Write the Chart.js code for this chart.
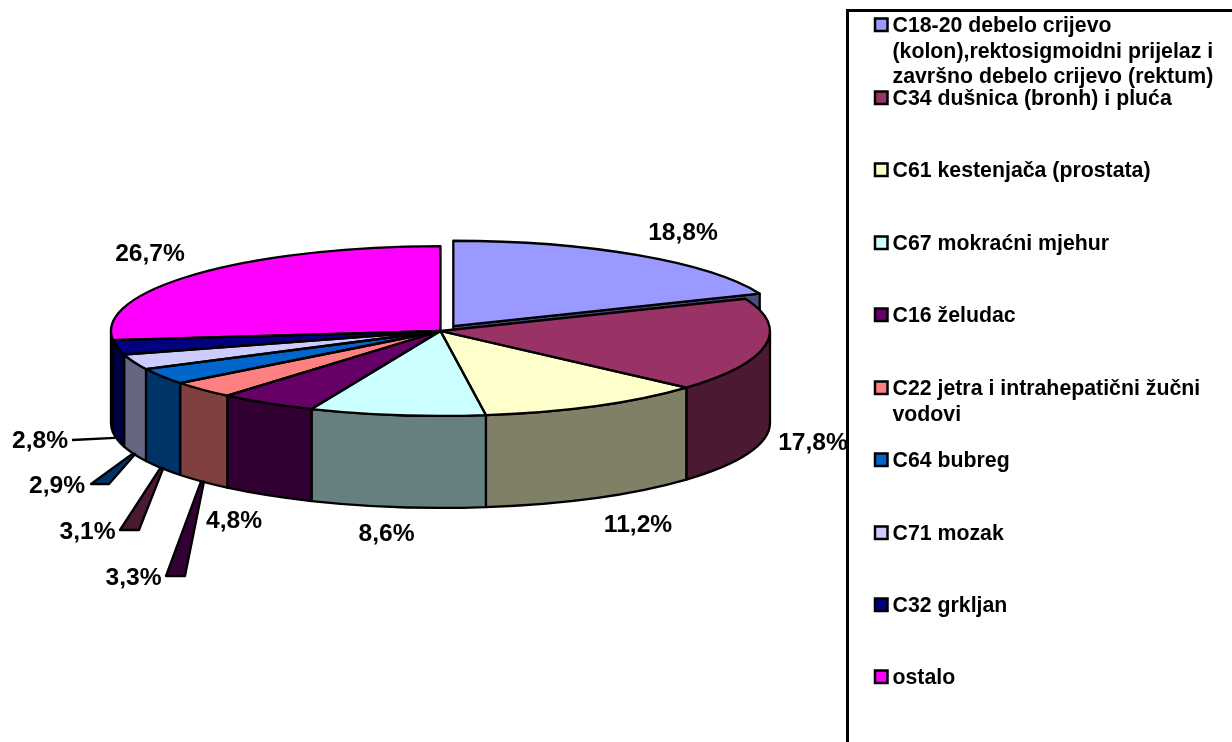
<!DOCTYPE html>
<html>
<head>
<meta charset="utf-8">
<script src="https://cdn.jsdelivr.net/npm/chart.js@4"></script>
<style>
  html, body { margin: 0; padding: 0; background: #fff; overflow: hidden; }
  canvas { display: block; }
</style>
</head>
<body>
<canvas id="pie" width="1232" height="742"></canvas>
<script>
const categories = [
  "C18-20 debelo crijevo\n(kolon),rektosigmoidni prijelaz i\nzavršno debelo crijevo (rektum)",
  "C34 dušnica (bronh) i pluća",
  "C61 kestenjača (prostata)",
  "C67 mokraćni mjehur",
  "C16 želudac",
  "C22 jetra i intrahepatični žučni\nvodovi",
  "C64 bubreg",
  "C71 mozak",
  "C32 grkljan",
  "ostalo",
];
const shares = [18.8, 17.8, 11.2, 8.6, 4.8, 3.3, 3.1, 2.9, 2.8, 26.7];
const topColors = ["#9999FF", "#993366", "#FFFFCC", "#CCFFFF", "#660066", "#FF8080", "#0066CC", "#CCCCFF", "#000080", "#FF00FF"];
const wallColors = ["#4C4C80", "#4C1933", "#808066", "#668080", "#330033", "#804040", "#003366", "#666680", "#000040", "#800080"];

// layout
const SQUASH = 85 / 330;
const DEPTH = 92;
const LINE = 2.3;
const LABEL_FONT = "bold 24.6px 'Liberation Sans', Arial, sans-serif";
const LEGEND_FONT = "bold 21.3px 'Liberation Sans', Arial, sans-serif";
// [centre x, baseline y]
const labelAnchors = [[683, 240], [813, 450], [638, 532], [386.5, 541], [234, 528], [133.5, 585], [87.5, 539], [57, 493], [40, 448], [150, 261]];
const legendBaselines = [32, 105, 177, 250, 322, 395, 467, 540, 612, 684];
// index -> [tail left x, tail right x, tail y, fill]
const leaders = {
  5: [166, 185, 576, "#330033"],
  6: [120, 139, 530, "#4C1933"],
  7: [91, 109, 484, "#003366"],
  8: [72, 72, 440, null],
};

function arcGeom(arc) {
  const off = (arc.options.offset || 0) / 4;
  const mid = (arc.startAngle + arc.endAngle) / 2;
  const fix = 1 - Math.sin(Math.min(Math.PI, arc.circumference));
  return {
    x: arc.x + Math.cos(mid) * off,
    y: arc.y + Math.sin(mid) * off * SQUASH,
    r: arc.outerRadius + off * fix,
    start: arc.startAngle,
    end: arc.endAngle,
    mid,
  };
}

function pointAt(g, angle, drop = 0) {
  return [g.x + Math.cos(angle) * g.r, g.y + Math.sin(angle) * g.r * SQUASH + drop];
}

function paint(ctx, fill) {
  if (fill) {
    ctx.fillStyle = fill;
    ctx.fill();
  }
  ctx.stroke();
}

function drawEndFace(ctx, g, fill) {
  const [ex, ey] = pointAt(g, g.end);
  ctx.beginPath();
  ctx.moveTo(g.x, g.y);
  ctx.lineTo(ex, ey);
  ctx.lineTo(ex, ey + DEPTH);
  ctx.lineTo(g.x, g.y + DEPTH);
  ctx.closePath();
  paint(ctx, fill);
}

function drawWall(ctx, g, fill) {
  // only the part of the rim facing the viewer
  const from = Math.max(g.start, 0);
  const to = Math.min(g.end, Math.PI);
  if (to <= from) return;
  const ry = g.r * SQUASH;
  const [bx, by] = pointAt(g, to, DEPTH);
  ctx.beginPath();
  ctx.ellipse(g.x, g.y, g.r, ry, 0, from, to);
  ctx.lineTo(bx, by);
  ctx.ellipse(g.x, g.y + DEPTH, g.r, ry, 0, to, from, true);
  ctx.closePath();
  paint(ctx, fill);
}

function drawTopOutline(ctx, g) {
  ctx.beginPath();
  ctx.moveTo(g.x, g.y);
  ctx.ellipse(g.x, g.y, g.r, g.r * SQUASH, 0, g.start, g.end);
  ctx.closePath();
  ctx.stroke();
}

function drawLeader(ctx, g, spec) {
  const [tl, tr, ty, fill] = spec;
  const [ax, ay] = pointAt(g, g.mid, DEPTH);
  ctx.beginPath();
  if (fill) {
    ctx.moveTo(tl, ty);
    ctx.lineTo(tr, ty);
    ctx.lineTo(ax + 1.5, ay);
    ctx.lineTo(ax - 1.5, ay);
    ctx.closePath();
    paint(ctx, fill);
  } else {
    ctx.moveTo(tl, ty);
    ctx.lineTo(ax - 2, ay - 1.5);
    ctx.stroke();
  }
}

const pie3d = {
  id: "pie3d",
  beforeDatasetsDraw(chart) {
    const ctx = chart.ctx;
    const arcs = chart.getDatasetMeta(0).data;
    const geoms = arcs.map(arcGeom);
    ctx.save();
    ctx.strokeStyle = "#000";
    ctx.lineWidth = LINE;
    ctx.lineJoin = "round";
    drawEndFace(ctx, geoms[0], wallColors[0]);
    geoms.forEach((g, i) => drawWall(ctx, g, wallColors[i]));
    ctx.restore();

    // squash the round pie into the tilted disc
    ctx.save();
    ctx.translate(arcs[0].x, arcs[0].y);
    ctx.scale(1, SQUASH);
    ctx.translate(-arcs[0].x, -arcs[0].y);
  },
  afterDatasetsDraw(chart) {
    const ctx = chart.ctx;
    ctx.restore();
    const geoms = chart.getDatasetMeta(0).data.map(arcGeom);

    ctx.save();
    ctx.strokeStyle = "#000";
    ctx.lineWidth = LINE;
    ctx.lineJoin = "round";
    geoms.forEach((g) => drawTopOutline(ctx, g));
    Object.entries(leaders).forEach(([i, spec]) => drawLeader(ctx, geoms[i], spec));

    ctx.fillStyle = "#000";
    ctx.textAlign = "center";
    ctx.textBaseline = "alphabetic";
    ctx.font = LABEL_FONT;
    shares.forEach((v, i) => {
      const [x, y] = labelAnchors[i];
      ctx.fillText(v.toFixed(1).replace(".", ",") + "%", x, y);
    });
    ctx.restore();
  },
  afterDraw(chart) {
    const ctx = chart.ctx;
    ctx.save();
    // legend frame runs off the right and bottom of the picture
    ctx.strokeStyle = "#000";
    ctx.lineWidth = 3;
    ctx.beginPath();
    ctx.moveTo(847.5, 745);
    ctx.lineTo(847.5, 10.5);
    ctx.lineTo(1235, 10.5);
    ctx.stroke();

    ctx.font = LEGEND_FONT;
    ctx.textAlign = "left";
    ctx.textBaseline = "alphabetic";
    categories.forEach((name, i) => {
      const base = legendBaselines[i];
      ctx.fillStyle = topColors[i];
      ctx.strokeStyle = "#000";
      ctx.lineWidth = 2.5;
      ctx.fillRect(875, base - 13.5, 12.5, 12.5);
      ctx.strokeRect(875, base - 13.5, 12.5, 12.5);
      ctx.fillStyle = "#000";
      name.split("\n").forEach((line, j) => ctx.fillText(line, 892.5, base + j * 25.6));
    });
    ctx.restore();
  },
};

new Chart(document.getElementById("pie"), {
  type: "pie",
  data: {
    labels: categories.map((c) => c.replace(/\n/g, " ")),
    datasets: [{
      data: shares,
      backgroundColor: topColors,
      borderWidth: 0,
      offset: shares.map((_, i) => (i === 0 ? 92 : 0)),
    }],
  },
  options: {
    responsive: false,
    animation: false,
    radius: 329.5,
    layout: { padding: { left: 110.5, right: 461.5, top: 1, bottom: 81 } },
    plugins: { legend: { display: false }, tooltip: { enabled: false } },
  },
  plugins: [pie3d],
});
</script>
</body>
</html>
